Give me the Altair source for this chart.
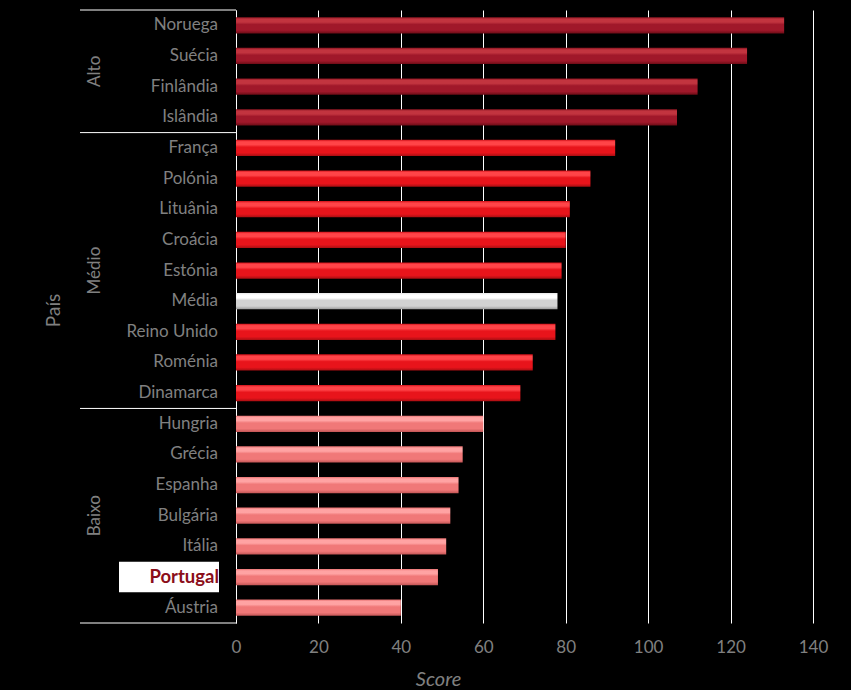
import altair as alt
import pandas as pd

countries = ["Noruega", "Suécia", "Finlândia", "Islândia",
             "França", "Polónia", "Lituânia", "Croácia", "Estónia", "Média",
             "Reino Unido", "Roménia", "Dinamarca",
             "Hungria", "Grécia", "Espanha", "Bulgária", "Itália", "Portugal", "Áustria"]
scores = [133, 124, 112, 107,
          92, 86, 81, 80, 79, 78, 77.5, 72, 69,
          60, 55, 54, 52, 51, 49, 40]
groups = ["Alto"] * 4 + ["Médio"] * 9 + ["Baixo"] * 7
kinds = ["Alto"] * 4 + ["Médio"] * 5 + ["Média"] + ["Médio"] * 3 + ["Baixo"] * 7

df = pd.DataFrame({"pais": countries, "score": scores, "grupo": groups, "tipo": kinds})

LABEL = "#808080"
FONT = "Lato"

ysc = alt.Scale(domain=countries, paddingInner=0, paddingOuter=0)
xsc = alt.Scale(domain=[0, 140], nice=False)

def grad(light, mid, dark, edge):
    return alt.Gradient(
        gradient="linear", x1=0, y1=0, x2=0, y2=1,
        stops=[
            alt.GradientStop(offset=0, color=edge),
            alt.GradientStop(offset=0.12, color=light),
            alt.GradientStop(offset=0.3, color=light),
            alt.GradientStop(offset=0.45, color=mid),
            alt.GradientStop(offset=0.8, color=mid),
            alt.GradientStop(offset=1, color=dark),
        ])

fills = {
    "Alto": grad("#c2343f", "#a0182a", "#6e0c16", "#8a1420"),
    "Médio": grad("#ff4448", "#e8141b", "#a80e12", "#d01018"),
    "Média": grad("#ffffff", "#d2d2d2", "#9a9a9a", "#e6e6e6"),
    "Baixo": grad("#ffa3a3", "#f07878", "#c45656", "#e87070"),
}

base = alt.Chart(df)

y_enc = alt.Y("pais:N", scale=ysc, sort=countries,
              axis=alt.Axis(labels=False, ticks=False, domain=True, domainColor="#ffffff",
                            domainWidth=1, grid=False, title="País",
                            titleColor=LABEL, titleFont=FONT, titleFontSize=19,
                            titleFontWeight="normal", titleAngle=-90,
                            titleX=-183, titleY=300, titleAlign="center",
                            titleBaseline="middle"))
x_enc = alt.X("score:Q", scale=xsc,
              axis=alt.Axis(values=[0, 20, 40, 60, 80, 100, 120, 140], grid=True,
                            gridColor="#ffffff", gridWidth=1, domain=False, ticks=False,
                            labelFlush=False,
                            labelColor=LABEL, labelFont=FONT, labelFontSize=17,
                            labelPadding=16, title="Score", titleColor=LABEL,
                            titleFont=FONT, titleFontSize=20, titleFontStyle="italic",
                            titleFontWeight="normal", titleX=202, titleY=56,
                            titleBaseline="middle", titleAlign="center"))

layers = []
for k, f in fills.items():
    layers.append(
        base.transform_filter(alt.datum.tipo == k)
        .mark_bar(height={"band": 0.53}, color=f, cornerRadius=0)
        .encode(x=x_enc, y=y_enc)
    )

labels = base.transform_filter(alt.datum.pais != "Portugal").mark_text(
    align="right", baseline="middle", font=FONT, fontSize=17, color=LABEL
).encode(y=alt.Y("pais:N", scale=ysc, sort=countries), x=alt.value(-18), text="pais:N")

pt_df = df[df["pais"] == "Portugal"]
pt_box = alt.Chart(pt_df).mark_rect(color="#ffffff").encode(
    y=alt.Y("pais:N", scale=ysc, sort=countries), x=alt.value(-117), x2=alt.value(-17))
pt_text = alt.Chart(pt_df).mark_text(
    align="right", baseline="middle", font=FONT, fontSize=18.5, fontWeight="bold",
    color="#8b0e1a").encode(y=alt.Y("pais:N", scale=ysc, sort=countries),
                            x=alt.value(-17), text="pais:N")

sep_top = pd.DataFrame({"pais": ["Noruega", "França", "Hungria"]})
seps = alt.Chart(sep_top).mark_rule(color="#ffffff", strokeWidth=1).encode(
    y=alt.Y("pais:N", scale=ysc, sort=countries, bandPosition=0),
    x=alt.value(-156), x2=alt.value(0))
sep_bot = alt.Chart(pd.DataFrame({"pais": ["Áustria"]})).mark_rule(
    color="#ffffff", strokeWidth=1).encode(
    y=alt.Y("pais:N", scale=ysc, sort=countries, bandPosition=1),
    x=alt.value(-156), x2=alt.value(0))

group_names = ["Alto", "Médio", "Baixo"]
group_anchor = ["Suécia", "Estónia", "Bulgária"]
group_pos = [1, 0.5, 0.5]
glayers = []
for g, a, p in zip(group_names, group_anchor, group_pos):
    glayers.append(
        alt.Chart(pd.DataFrame({"pais": [a], "g": [g]})).mark_text(
            angle=270, align="center", baseline="middle", font=FONT, fontSize=17,
            color=LABEL).encode(
            y=alt.Y("pais:N", scale=ysc, sort=countries, bandPosition=p),
            x=alt.value(-141), text="g:N")
    )

chart = alt.layer(*layers, labels, pt_box, pt_text, seps, sep_bot, *glayers).properties(
    width=577, height=613,
    padding={"left": 236, "top": 10, "right": 38, "bottom": 67},
    autosize=alt.AutoSizeParams(type="none"),
    background="#000000",
).configure_view(stroke=None).configure_axis(labelFont=FONT)

chart.save("out.html", embed_options={"renderer": "svg", "actions": False})
